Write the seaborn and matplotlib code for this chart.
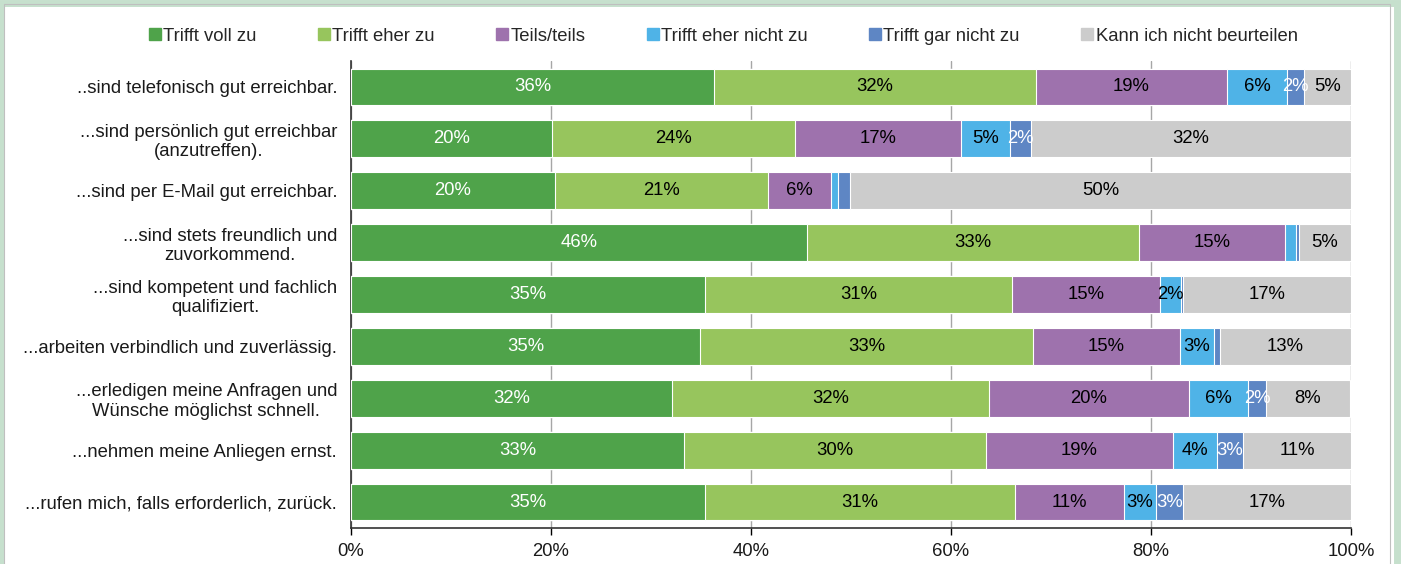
import numpy as np
import pandas as pd
import matplotlib.pyplot as plt
import seaborn as sns
from matplotlib.lines import Line2D
from matplotlib.patches import Rectangle

# survey items (y axis, top to bottom)
items = [
    "..sind telefonisch gut erreichbar.",
    "...sind persönlich gut erreichbar\n(anzutreffen).",
    "...sind per E-Mail gut erreichbar.",
    "...sind stets freundlich und\nzuvorkommend.",
    "...sind kompetent und fachlich\nqualifiziert.",
    "...arbeiten verbindlich und zuverlässig.",
    "...erledigen meine Anfragen und\nWünsche möglichst schnell.",
    "...nehmen meine Anliegen ernst.",
    "...rufen mich, falls erforderlich, zurück.",
]

answers = ["Trifft voll zu", "Trifft eher zu", "Teils/teils",
           "Trifft eher nicht zu", "Trifft gar nicht zu", "Kann ich nicht beurteilen"]

# shares in % per answer
voll_zu       = [36.3, 20.1, 20.4, 45.6, 35.4, 34.9, 32.1, 33.3, 35.4]
eher_zu       = [32.2, 24.3, 21.3, 33.2, 30.7, 33.3, 31.7, 30.2, 31.0]
teils         = [19.1, 16.6, 6.3, 14.6, 14.8, 14.7, 20.0, 18.7, 10.9]
eher_nicht_zu = [6.0, 4.9, 0.7, 1.1, 2.1, 3.4, 5.9, 4.4, 3.2]
gar_nicht_zu  = [1.7, 2.1, 1.2, 0.3, 0.2, 0.6, 1.8, 2.6, 2.7]
kann_nicht    = [4.7, 32.0, 50.1, 5.2, 16.8, 13.1, 8.4, 10.8, 16.8]

colors = ["#4FA34A", "#97C55D", "#9E72AD", "#4FB3E7", "#5E86C4", "#CCCCCC"]
text_colors = ["white", "black", "black", "black", "white", "black"]

df = pd.DataFrame(
    np.array([voll_zu, eher_zu, teils, eher_nicht_zu, gar_nicht_zu, kann_nicht]).T,
    columns=answers, index=items)
cum = df.cumsum(axis=1)

sns.set_theme(style="white")
plt.rcParams["font.family"] = ["Liberation Sans", "DejaVu Sans"]
FS = 13.3

fig = plt.figure(figsize=(14.01, 5.64), dpi=100)
ax = fig.add_axes([0.2505, 0.0638, 0.7138, 0.828])

# stacked bars: draw cumulative totals from the back to the front
for i in range(len(answers) - 1, -1, -1):
    sns.barplot(x=cum[answers[i]].values, y=items, order=items, orient="h",
                color=colors[i], width=0.71, edgecolor="white", linewidth=0.8,
                saturation=1, ax=ax, zorder=3)

# value labels
for i, a in enumerate(answers):
    left = cum[a] - df[a]
    for j, v in enumerate(df[a]):
        if v >= 1.5:
            ax.text(left.iloc[j] + v / 2, j, f"{round(v):.0f}%", ha="center", va="center",
                    color=text_colors[i], fontsize=FS, zorder=5)

ax.set_xlim(0, 100)
ax.set_ylim(8.5, -0.5)
ax.set_xticks([0, 20, 40, 60, 80, 100])
ax.set_xticklabels([f"{t}%" for t in [0, 20, 40, 60, 80, 100]], fontsize=FS)
ax.set_xlabel("")
ax.set_ylabel("")
ax.xaxis.grid(True, color="#A6A6A6", linewidth=1)
ax.set_axisbelow(True)
for lab in ax.get_yticklabels():
    lab.set_multialignment("center")
    lab.set_fontsize(FS)
    lab.set_color("#1a1a1a")
ax.tick_params(axis="x", bottom=True, length=5, width=1, color="black", pad=6, labelcolor="#1a1a1a")
ax.tick_params(axis="y", left=False, length=0, pad=10)
for s in ["top", "right"]:
    ax.spines[s].set_visible(False)
ax.spines["left"].set_color("#333333")
ax.spines["bottom"].set_color("#333333")
ax.spines["left"].set_linewidth(1.2)
ax.spines["bottom"].set_linewidth(1.2)

handles = [Line2D([], [], marker="s", linestyle="", markersize=8, color=c) for c in colors]
fig.legend(handles, answers, loc="center", bbox_to_anchor=(0.516, 0.936), ncol=6,
           frameon=False, fontsize=FS, handletextpad=0.1, columnspacing=3.3,
           handlelength=0.7)

# chart frame
fig.patches.append(Rectangle((0.0, -0.02), 0.9975, 1.015, transform=fig.transFigure,
                             fill=False, edgecolor="#C6E0CD", linewidth=5, zorder=0))
fig.patches.append(Rectangle((4 / 1401, -0.02), (1390 - 4) / 1401, 1.0129, transform=fig.transFigure,
                             fill=False, edgecolor="#BFBFBF", linewidth=0.8, zorder=0))

fig.savefig("out.png", dpi=100)
